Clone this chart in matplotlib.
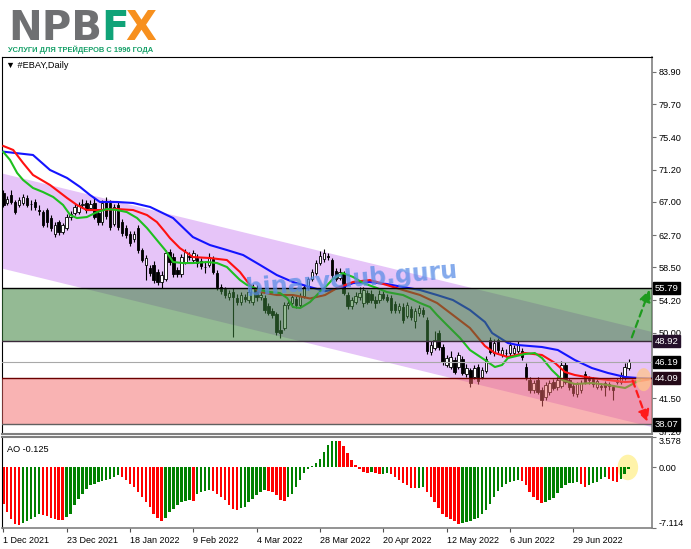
import matplotlib
matplotlib.use('Agg')
import matplotlib.pyplot as plt
from matplotlib.patches import Polygon, Ellipse
from matplotlib.transforms import blended_transform_factory
import numpy as np

plt.rcParams['font.family'] = ['Liberation Sans', 'DejaVu Sans']

# ---- data (EBAY daily, 1 Dec 2021 .. 12 Jul 2022) ----
date_labels = ['1 Dec 2021', '23 Dec 2021', '18 Jan 2022', '9 Feb 2022', '4 Mar 2022',
               '28 Mar 2022', '20 Apr 2022', '12 May 2022', '6 Jun 2022', '29 Jun 2022']
date_bars = [0, 16, 32, 48, 64, 80, 96, 112, 128, 144]

opens = [68.2, 66.9, 67.9, 67.0, 66.6, 66.9, 67.5, 66.8, 67.0, 66.0,
         65.7, 65.9, 64.9, 62.8, 64.4, 63.1, 63.6, 65.0, 65.6, 65.7,
         66.6, 66.9, 66.2, 66.9, 65.6, 64.4, 67.0, 66.9, 64.2, 66.6,
         64.4, 63.6, 62.9, 62.2, 63.6, 60.7, 58.8, 58.4, 58.8, 57.9,
         56.6, 57.0, 60.5, 59.9, 58.2, 57.6, 59.2, 60.0, 59.4, 59.7,
         59.3, 58.6, 58.8, 59.6, 57.8, 56.0, 55.7, 54.6, 55.3, 54.5,
         54.0, 54.6, 54.2, 54.0, 55.8, 54.6, 54.5, 53.5, 52.8, 52.4,
         50.4, 50.6, 53.6, 53.9, 54.4, 53.6, 54.8, 55.8, 57.0, 57.8,
         59.0, 59.6, 60.0, 59.4, 58.0, 57.1, 57.6, 54.9, 53.5, 54.0,
         54.6, 53.8, 55.2, 55.0, 54.3, 54.2, 55.0, 54.6, 54.5, 53.7,
         53.0, 53.4, 52.2, 53.1, 51.5, 52.6, 53.0, 51.6, 47.5, 48.0,
         50.0, 48.2, 45.8, 45.6, 46.4, 45.6, 46.6, 44.6, 45.1, 44.3,
         45.5, 44.3, 45.0, 49.0, 47.4, 49.0, 47.1, 47.4, 47.3, 47.3,
         47.6, 47.6, 45.6, 43.9, 42.6, 43.8, 42.5, 41.6, 42.3, 43.6,
         42.9, 43.1, 45.8, 43.8, 43.1, 42.0, 42.5, 44.6, 44.0, 44.0,
         43.0, 43.1, 43.4, 43.3, 42.9, 43.6, 43.6, 44.2, 45.4]
highs = [68.5, 67.8, 68.6, 67.3, 67.6, 68.0, 67.9, 67.3, 67.4, 66.6,
         66.0, 66.2, 65.3, 64.4, 64.7, 64.3, 65.4, 65.8, 66.8, 67.0,
         67.4, 67.3, 67.2, 67.6, 66.0, 67.3, 67.6, 67.3, 66.8, 67.0,
         64.8, 64.0, 63.2, 63.2, 64.0, 61.0, 60.1, 58.8, 59.3, 58.3,
         58.0, 60.8, 60.9, 60.3, 58.6, 60.2, 60.9, 60.5, 60.8, 60.2,
         59.7, 59.3, 60.4, 60.0, 58.2, 56.3, 56.0, 55.6, 55.8, 55.0,
         55.3, 55.0, 55.7, 56.3, 56.2, 55.3, 54.9, 53.9, 53.2, 52.7,
         51.6, 54.0, 54.4, 54.9, 54.8, 55.1, 56.2, 57.3, 58.3, 59.4,
         60.6, 60.9, 60.4, 59.7, 58.4, 58.4, 58.0, 55.3, 54.7, 55.3,
         55.9, 56.0, 55.6, 55.5, 54.8, 55.5, 55.4, 55.0, 54.9, 54.1,
         53.9, 53.8, 54.0, 53.5, 53.2, 53.6, 53.4, 52.0, 48.9, 50.2,
         50.3, 48.5, 47.1, 47.6, 46.8, 47.5, 47.0, 45.9, 45.4, 45.8,
         45.9, 45.6, 47.0, 49.4, 49.2, 49.3, 48.1, 47.9, 48.8, 48.4,
         48.9, 48.0, 46.0, 44.2, 43.8, 44.2, 42.9, 43.6, 43.8, 44.0,
         44.3, 46.3, 46.2, 44.1, 43.4, 43.6, 43.9, 45.0, 44.4, 44.3,
         44.0, 43.5, 43.7, 43.6, 43.2, 44.1, 44.9, 46.0, 46.6]
lows = [66.3, 66.6, 66.8, 65.4, 66.3, 66.6, 66.3, 66.0, 66.0, 65.3,
        63.7, 63.8, 63.2, 62.4, 62.7, 62.8, 63.3, 64.7, 65.3, 65.4,
        66.2, 65.6, 66.0, 64.8, 64.0, 64.0, 64.8, 63.4, 63.9, 63.4,
        62.6, 62.3, 61.3, 61.8, 60.4, 59.2, 56.9, 57.4, 56.5, 56.2,
        55.8, 56.7, 58.8, 57.3, 57.2, 57.3, 58.9, 59.5, 59.0, 58.6,
        58.3, 57.8, 58.5, 57.6, 55.6, 55.0, 54.5, 54.2, 49.4, 53.6,
        53.6, 54.0, 53.9, 53.6, 54.1, 54.2, 52.6, 52.3, 51.9, 49.7,
        49.3, 50.3, 53.1, 53.4, 53.2, 53.3, 54.5, 55.5, 56.7, 57.5,
        58.8, 59.2, 59.4, 57.1, 56.7, 56.8, 54.9, 53.1, 53.1, 53.7,
        54.2, 53.4, 53.7, 53.8, 53.2, 53.9, 54.2, 54.0, 52.5, 52.6,
        52.6, 51.2, 51.9, 51.7, 50.6, 52.2, 52.0, 47.2, 47.1, 47.7,
        47.7, 45.8, 45.5, 45.3, 44.6, 45.3, 44.5, 44.3, 43.0, 44.0,
        43.3, 44.0, 44.8, 47.2, 47.0, 47.4, 46.8, 46.9, 47.0, 47.0,
        47.3, 46.5, 43.9, 42.2, 42.2, 42.0, 40.5, 41.3, 41.9, 42.5,
        42.6, 42.8, 43.3, 42.6, 41.8, 41.7, 42.2, 43.3, 43.3, 43.0,
        42.7, 42.6, 41.8, 42.6, 41.2, 43.3, 43.3, 43.9, 45.2]
closes = [66.6, 67.4, 67.0, 65.7, 67.2, 67.6, 66.6, 66.7, 66.3, 65.8,
          64.0, 64.4, 63.6, 64.0, 63.1, 64.0, 65.0, 65.4, 66.4, 66.6,
          66.8, 66.0, 66.7, 65.1, 64.4, 66.9, 65.2, 63.8, 66.3, 63.8,
          63.0, 62.7, 61.7, 62.8, 60.8, 59.5, 59.7, 57.8, 56.9, 56.6,
          57.5, 60.3, 59.2, 57.6, 57.6, 59.8, 60.5, 59.9, 60.4, 59.0,
          58.7, 58.5, 59.9, 57.9, 56.0, 55.4, 54.9, 55.2, 54.6, 54.0,
          54.9, 54.4, 55.3, 56.0, 54.6, 54.9, 53.0, 52.6, 52.3, 50.1,
          49.9, 53.6, 53.9, 54.6, 53.6, 54.8, 55.9, 57.0, 57.9, 59.0,
          60.0, 60.3, 59.8, 57.5, 57.0, 57.9, 55.2, 53.5, 54.3, 54.8,
          55.2, 55.5, 54.0, 54.2, 53.9, 55.0, 54.5, 54.3, 52.9, 53.0,
          53.5, 51.6, 53.6, 52.0, 52.8, 53.2, 52.4, 47.6, 48.4, 49.0,
          48.2, 46.2, 46.7, 46.9, 44.9, 47.1, 44.8, 45.4, 43.5, 45.4,
          43.7, 45.2, 46.6, 47.5, 48.7, 47.8, 47.7, 47.3, 48.4, 48.0,
          48.4, 46.9, 44.3, 42.6, 43.4, 42.3, 41.3, 43.2, 43.4, 42.8,
          43.9, 45.8, 43.6, 43.0, 42.2, 43.3, 43.5, 43.6, 43.8, 43.3,
          43.7, 42.9, 42.9, 43.1, 42.5, 43.8, 44.5, 45.6, 46.19]

# Alligator lines (sampled along the chart: bar position, price)
jaw_x = [0, 7.5, 11.8, 16.1, 19.4, 21.9, 24.4, 28.7, 32.8, 37.1, 39.6, 42.9, 47.9, 52.2,
         56.5, 60.6, 64.9, 69.1, 73.2, 77.5, 81.3, 85.1, 88.4, 92.6, 96.9, 101.0, 105.3,
         109.6, 113.6, 117.9, 121.7, 123.5, 127.5, 130.0, 136.1, 140.1, 144.4, 148.7,
         152.8, 157.1, 160.4, 164.0]
jaw_y = [73.54, 73.11, 71.16, 70.12, 68.95, 67.91, 67.00, 67.00, 66.87, 66.35, 65.73, 64.91,
         62.44, 61.40, 60.75, 60.10, 58.80, 57.50, 56.59, 55.94, 55.40, 55.81, 56.46, 56.59,
         56.33, 55.94, 55.55, 54.90, 54.25, 52.95, 51.39, 49.96, 48.66, 48.40, 48.14, 47.75,
         46.45, 45.41, 44.76, 44.24, 44.11, 44.05]
teeth_x = [0, 2.5, 5.0, 7.5, 11.8, 16.1, 18.6, 21.1, 24.4, 28.7, 32.8, 36.3, 38.8, 40.9,
           42.1, 44.6, 47.9, 52.2, 56.5, 59.8, 62.3, 64.9, 69.1, 73.2, 77.5, 81.3, 84.3,
           88.4, 92.6, 96.9, 101.0, 105.3, 109.6, 113.6, 117.9, 121.7, 124.2, 127.5, 131.8,
           136.1, 139.4, 141.9, 144.4, 148.7, 152.8, 157.1, 160.9, 163.0]
teeth_y = [74.28, 73.76, 72.07, 70.51, 69.21, 67.52, 66.61, 65.95, 65.95, 66.08, 65.95,
           65.30, 64.39, 63.09, 62.31, 61.01, 59.84, 59.71, 59.45, 57.89, 56.20, 55.29,
           54.90, 54.90, 54.45, 54.90, 55.80, 56.60, 56.85, 56.20, 55.55, 54.90, 53.86,
           52.30, 50.61, 48.27, 47.36, 46.84, 47.36, 47.10, 46.06, 44.89, 44.50, 44.11,
           43.85, 43.59, 43.72, 43.90]
lips_x = [0, 1.7, 3.5, 5.0, 7.5, 10.0, 12.6, 15.1, 16.9, 18.6, 21.1, 23.7, 26.2, 28.7,
          31.2, 33.8, 36.3, 38.8, 40.9, 42.9, 45.4, 47.9, 51.5, 54.0, 56.5, 58.0, 59.8,
          61.6, 64.9, 67.4, 69.9, 71.7, 73.2, 75.0, 77.5, 80.0, 81.3, 83.3, 85.8, 88.4,
          90.9, 94.4, 96.9, 101.0, 105.3, 107.8, 109.6, 112.1, 115.4, 117.9, 121.7, 124.2,
          126.0, 127.5, 131.8, 134.3, 136.1, 138.6, 141.2, 144.4, 148.7, 152.8, 157.1, 160.9]
lips_y = [73.50, 72.46, 70.77, 69.86, 68.82, 68.30, 67.65, 66.61, 65.30, 64.91, 65.04,
          65.69, 66.08, 65.95, 65.69, 64.91, 63.61, 62.05, 60.75, 59.19, 59.06, 59.06,
          59.19, 59.06, 58.54, 57.76, 56.85, 56.20, 55.55, 55.29, 55.16, 54.51, 53.34,
          53.21, 53.99, 55.30, 55.90, 57.00, 57.76, 57.24, 56.46, 55.81, 55.29, 54.90,
          53.86, 53.34, 52.30, 51.00, 49.31, 47.75, 46.45, 45.54, 45.80, 46.71, 47.23,
          47.36, 46.71, 45.15, 43.85, 43.33, 43.46, 43.20, 42.81, 43.85]

# Awesome Oscillator, one value per bar
ao = [-4.28, -5.27, -6.06, -6.65, -6.77, -6.57, -6.33, -6.06, -5.78, -5.45,
      -5.55, -5.75, -5.95, -6.10, -6.18, -6.20, -5.78, -5.46, -4.47, -3.68,
      -3.09, -2.49, -2.10, -1.90, -1.74, -1.62, -1.50, -1.31, -1.11, -0.91,
      -1.11, -1.50, -1.90, -2.30, -2.89, -3.48, -4.08, -4.67, -5.46, -5.94,
      -6.25, -5.94, -5.27, -4.87, -4.47, -4.08, -3.96, -3.88, -3.92, -3.10,
      -2.90, -2.80, -2.70, -2.77, -3.09, -3.48, -3.88, -4.47, -4.87, -4.99,
      -4.75, -4.60, -4.08, -3.68, -3.29, -2.89, -2.69, -2.71, -2.89, -3.29,
      -3.88, -3.96, -3.48, -3.09, -2.30, -1.50, -0.71, -0.24, 0.16, 0.48,
      0.95, 1.86, 2.65, 3.05, 3.12, 3.08, 2.50, 1.70, 0.91, 0.32,
      -0.20, -0.55, -0.62, -0.58, -0.70, -0.78, -0.74, -0.70, -0.72, -1.07,
      -1.46, -1.86, -2.06, -2.40, -2.45, -2.40, -2.35, -2.85, -3.44, -4.04,
      -4.71, -5.42, -5.82, -6.10, -6.35, -6.60, -6.50, -6.45, -6.33, -6.10,
      -5.90, -5.50, -5.00, -4.30, -3.50, -2.80, -2.30, -1.95, -1.75, -1.62,
      -1.50, -1.54, -2.06, -2.85, -3.44, -3.84, -4.16, -4.04, -3.84, -3.64,
      -3.05, -2.45, -2.06, -1.86, -1.78, -1.74, -1.94, -2.26, -2.06, -1.86,
      -1.66, -1.40, -1.15, -1.30, -1.55, -1.70, -1.30, -0.80, -0.125]

# descending channel (bar, price at the two ends)
chan_x = [-0.83, 163.9]
chan_top = [70.77, 50.10]
chan_bot = [58.41, 37.74]

buy_zone = (48.92, 55.79)
sell_zone = (38.07, 44.09)
last_price = 46.19

up_arrow_x, up_arrow_y = [158.8, 163.3], [49.4, 55.6]
dn_arrow_x, dn_arrow_y = [159.0, 162.8], [43.8, 38.4]

price_ticks = [83.90, 79.70, 75.40, 71.20, 67.00, 62.70, 58.50, 54.20, 50.00, 45.70, 41.50, 37.20]
ao_ticks = [3.578, 0.0, -7.114]

# ---- figure layout in pixels ----
W, H = 691, 549
fig = plt.figure(figsize=(W / 100, H / 100), dpi=100)


def px_rect(l, t, r, b):
    return [l / W, 1 - b / H, (r - l) / W, (b - t) / H]


ax = fig.add_axes(px_rect(2, 57, 652, 434))
ax2 = fig.add_axes(px_rect(2, 437, 652, 528), sharex=ax)

idx = np.arange(len(closes))
o, h, l, c = map(np.array, (opens, highs, lows, closes))

# channel
cx = np.array(chan_x)
poly = Polygon(np.column_stack([np.r_[cx, cx[::-1]], np.r_[chan_top, chan_bot[::-1]]]),
               closed=True, facecolor='#e6c4f8', edgecolor='none', zorder=0.5)
ax.add_patch(poly)

# candles
ax.vlines(idx, l, h, color='black', lw=0.8, zorder=2)
up = c >= o
ax.bar(idx, np.maximum(np.abs(c - o), 0.08), bottom=np.minimum(o, c), width=0.62,
       color=np.where(up, 'white', 'black'), edgecolor='black', linewidth=0.6, zorder=2.1)

# alligator
ax.plot(jaw_x, jaw_y, color='#1414ff', lw=1.5, zorder=3)
ax.plot(teeth_x, teeth_y, color='#ff1010', lw=1.5, zorder=3.1)
ax.plot(lips_x, lips_y, color='#1ec01e', lw=1.5, zorder=3.2)

# zones
ax.axhspan(*buy_zone, color=(60 / 255, 130 / 255, 60 / 255), alpha=0.55, lw=0, zorder=3.5)
ax.axhspan(*sell_zone, color=(245 / 255, 105 / 255, 105 / 255), alpha=0.5, lw=0, zorder=3.5)
ax.axhline(buy_zone[1], color='black', lw=1, zorder=3.6)
ax.axhline(buy_zone[0], color='#3a2a3a', lw=1, zorder=3.6)
ax.axhline(last_price, color='#a8a8a8', lw=0.8, zorder=3.6)
ax.axhline(sell_zone[1], color='#6b0000', lw=1, zorder=3.6)
ax.axhline(sell_zone[0], color='#606060', lw=1, zorder=3.6)

# highlight + arrows
ax.add_patch(Ellipse((161.8, 43.9), 3.8, 3.0, facecolor='#ffc68a', alpha=0.75,
                     edgecolor='none', zorder=4))
ax.annotate('', xy=(up_arrow_x[1], up_arrow_y[1]), xytext=(up_arrow_x[0], up_arrow_y[0]),
            arrowprops=dict(arrowstyle='-|>,head_length=0.7,head_width=0.35', color='#1e9a1e',
                            lw=1.6, linestyle=(0, (3, 2)), shrinkA=0, shrinkB=0), zorder=4.5)
ax.annotate('', xy=(dn_arrow_x[1], dn_arrow_y[1]), xytext=(dn_arrow_x[0], dn_arrow_y[0]),
            arrowprops=dict(arrowstyle='-|>,head_length=0.7,head_width=0.35', color='#ff1a1a',
                            lw=1.6, linestyle=(0, (3, 2)), shrinkA=0, shrinkB=0), zorder=4.5)

# watermark
ax.text(0.538, 0.41, 'binaryclub.guru', transform=ax.transAxes, rotation=5,
        fontsize=17, fontweight='bold', family='DejaVu Sans', color='#5a8de6', alpha=0.75,
        ha='center', va='center', zorder=6)

ax.text(0.006, 0.978, '\u25bc #EBAY,Daily', transform=ax.transAxes, fontsize=6.6,
        family=['Liberation Sans', 'DejaVu Sans'], ha='left', va='center', zorder=7)

ax.set_xlim(-0.33, 163.9)
ax.set_ylim(36.83, 85.85)
ax.yaxis.tick_right()
ax.set_yticks(price_ticks)
ax.set_yticklabels([f'{v:.2f}' for v in price_ticks])
ax.tick_params(axis='y', direction='out', length=3, width=0.8, color='#707070',
               labelsize=6.6, pad=2)
ax.tick_params(axis='x', bottom=False, labelbottom=False)

# boxed price labels on the right scale
tr = blended_transform_factory(ax.transAxes, ax.transData)
for val, fc in [(buy_zone[1], 'black'), (buy_zone[0], '#24102a'), (last_price, 'black'),
                (sell_zone[1], '#240a18'), (sell_zone[0], 'black')]:
    ax.text(1.004, val, f'{val:.2f}', transform=tr, fontsize=6.8, color='white',
            ha='left', va='center', clip_on=False, zorder=10,
            bbox=dict(boxstyle='square,pad=0.18', fc=fc, ec=fc))

for name, sp in ax.spines.items():
    sp.set_color('black' if name in ('left', 'top') else '#808080')
ax.spines['bottom'].set_linewidth(1.5)
ax.spines['right'].set_linewidth(1.2)

# ---- AO panel ----
ao_colors = ['#ff0000'] + ['#008000' if ao[i] > ao[i - 1] else '#ff0000'
                           for i in range(1, len(ao))]
ax2.add_patch(Ellipse((157.8, 0.0), 5.2, 3.0, facecolor='#fff2a0', edgecolor='none',
                      alpha=0.9, zorder=1))
ax2.bar(idx, ao, width=0.62, color=ao_colors, zorder=2)
ax2.set_ylim(-7.114, 3.578)
ax2.yaxis.tick_right()
ax2.set_yticks(ao_ticks)
ax2.set_yticklabels(['3.578', '0.00', '-7.114'])
ax2.tick_params(axis='y', direction='out', length=3, width=0.8, color='#707070',
                labelsize=6.6, pad=2)
ylabs = ax2.get_yticklabels()
ylabs[0].set_va('top')
ylabs[2].set_va('bottom')
ax2.set_xticks(date_bars)
ax2.set_xticklabels(date_labels)
ax2.tick_params(axis='x', direction='out', length=3, width=0.8, color='#505050',
                labelsize=6.5, pad=3)
for lab in ax2.get_xticklabels():
    lab.set_ha('left')
ax2.text(0.008, 0.86, 'AO -0.125', transform=ax2.transAxes, fontsize=6.6, ha='left',
         va='center')
for name, sp in ax2.spines.items():
    sp.set_color('black' if name == 'left' else '#808080')
ax2.spines['top'].set_linewidth(1.5)
ax2.spines['right'].set_linewidth(1.2)
ax2.spines['bottom'].set_linewidth(1.2)
ax.set_xlim(-0.33, 163.9)

# ---- logo ----
fig.text(8 / W, 1 - 40 / H, 'NPB', fontsize=29, fontweight='bold', family='DejaVu Sans',
         color='#6f7072', ha='left', va='baseline')
fig.text(101 / W, 1 - 40 / H, 'F', fontsize=29, fontweight='bold', family='DejaVu Sans',
         color='#10a378', ha='left', va='baseline')
fig.text(125 / W, 1 - 40 / H, 'X', fontsize=29, fontweight='bold', family='DejaVu Sans',
         color='#f7901e', ha='left', va='baseline')
fig.text(8 / W, 1 - 52 / H, '\u0423\u0421\u041b\u0423\u0413\u0418 \u0414\u041b\u042f '
         '\u0422\u0420\u0415\u0419\u0414\u0415\u0420\u041e\u0412 \u0421 1996 \u0413\u041e\u0414\u0410',
         fontsize=5.4, fontweight='bold', family='Liberation Sans',
         color='#16a068', ha='left', va='baseline')

fig.savefig('out.png', dpi=100)
